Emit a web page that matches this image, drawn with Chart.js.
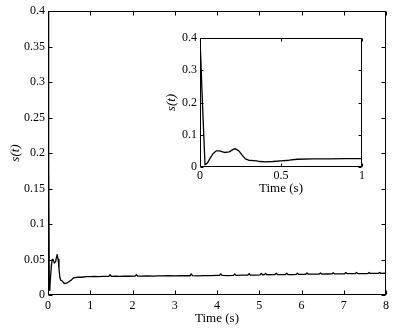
<!DOCTYPE html>
<html>
<head>
<meta charset="utf-8">
<script src="https://cdn.jsdelivr.net/npm/chart.js@4"></script>
<style>
  html, body { margin: 0; padding: 0; background: #fff; }
  #wrap { position: relative; width: 396px; height: 332px; }
  #main { position: absolute; left: 0; top: 0; }
  #inset { position: absolute; left: 160px; top: 20px; }
</style>
</head>
<body>
<div id="wrap">
  <canvas id="main" width="396" height="332"></canvas>
  <canvas id="inset" width="215" height="180"></canvas>
</div>
<script>
// ---- data ----
const timeEarly = [0, 0.015, 0.031, 0.045, 0.06, 0.08, 0.1, 0.12, 0.15, 0.18, 0.2, 0.216, 0.24, 0.26,
  0.28, 0.3, 0.33, 0.35, 0.37, 0.4, 0.45, 0.5, 0.55, 0.6, 0.7, 0.8, 0.9, 1.0];
const sEarly = [0.4, 0.2, 0.007, 0.012, 0.025, 0.041, 0.05, 0.05, 0.045, 0.047, 0.053, 0.057, 0.05, 0.037,
  0.025, 0.021, 0.02, 0.019, 0.017, 0.016, 0.017, 0.019, 0.021, 0.024, 0.025, 0.025, 0.026, 0.026];

const timeLate = [
  1.1, 1.2, 1.3, 1.44, 1.47, 1.5, 1.6, 1.7, 1.8, 1.9,
  2.06, 2.09, 2.12, 2.2, 2.35, 2.5, 2.6, 2.7, 2.85, 3.0,
  3.15, 3.36, 3.39, 3.42, 3.55, 3.7, 3.85, 4.0, 4.06, 4.09,
  4.12, 4.25, 4.39, 4.42, 4.45, 4.6, 4.73, 4.76, 4.79, 4.9,
  5.02, 5.05, 5.08, 5.12, 5.15, 5.18, 5.3, 5.37, 5.4, 5.43,
  5.55, 5.62, 5.65, 5.68, 5.8, 5.87, 5.9, 5.93, 6.05, 6.1,
  6.13, 6.16, 6.3, 6.42, 6.45, 6.48, 6.6, 6.72, 6.75, 6.78,
  6.9, 7.02, 7.05, 7.08, 7.2, 7.27, 7.3, 7.33, 7.45, 7.57,
  7.6, 7.63, 7.75, 7.82, 7.85, 7.88, 8.0];
const sLate = [
  0.0262, 0.0259, 0.0263, 0.0262, 0.0285, 0.0263, 0.0265, 0.0262, 0.0266, 0.0264,
  0.0266, 0.0288, 0.0267, 0.0265, 0.0268, 0.0266, 0.0270, 0.0268, 0.0271, 0.0269,
  0.0272, 0.0271, 0.0297, 0.0272, 0.0270, 0.0274, 0.0272, 0.0276, 0.0275, 0.0298,
  0.0276, 0.0274, 0.0277, 0.0297, 0.0277, 0.0279, 0.0279, 0.0302, 0.0280, 0.0279,
  0.0284, 0.0305, 0.0285, 0.0286, 0.0304, 0.0285, 0.0287, 0.0287, 0.0306, 0.0288,
  0.0287, 0.0289, 0.0306, 0.0289, 0.0288, 0.0290, 0.0307, 0.0291, 0.0291, 0.0292,
  0.0311, 0.0293, 0.0293, 0.0295, 0.0311, 0.0295, 0.0296, 0.0297, 0.0314, 0.0298,
  0.0298, 0.0299, 0.0316, 0.0300, 0.0300, 0.0301, 0.0317, 0.0302, 0.0302, 0.0303,
  0.0318, 0.0304, 0.0304, 0.0305, 0.0317, 0.0305, 0.0306];

const mainXTicks = [0, 1, 2, 3, 4, 5, 6, 7, 8];
const mainYTicks = [0, 0.05, 0.1, 0.15, 0.2, 0.25, 0.3, 0.35, 0.4];
const insetXTicks = [0, 0.5, 1];
const insetYTicks = [0, 0.1, 0.2, 0.3, 0.4];
const xTitle = 'Time (s)';
const yTitle = 's(t)';

// ---- build series ----
const allTime = timeEarly.concat(timeLate);
const allS = sEarly.concat(sLate);
const mainPts = allTime.map((t, i) => ({x: t, y: allS[i]}));
const insetPts = timeEarly.map((t, i) => ({x: t, y: sEarly[i]}));

const FONT = '"Liberation Serif", "Times New Roman", serif';

function frameTicks(len) {
  return {
    id: 'frameTicks',
    afterDraw(chart) {
      const {ctx, chartArea: a, scales} = chart;
      ctx.save();
      ctx.strokeStyle = '#000';
      ctx.lineWidth = 1;
      const L = Math.round(a.left) + 0.5, R = Math.round(a.right) - 0.5;
      const T = Math.round(a.top) + 0.5, B = Math.round(a.bottom) - 0.5;
      ctx.beginPath();
      scales.x.ticks.forEach(t => {
        const px = Math.round(scales.x.getPixelForValue(t.value)) + 0.5;
        ctx.moveTo(px, B); ctx.lineTo(px, B - len);
        ctx.moveTo(px, T); ctx.lineTo(px, T + len);
      });
      scales.y.ticks.forEach(t => {
        const py = Math.round(scales.y.getPixelForValue(t.value)) + 0.5;
        ctx.moveTo(L, py); ctx.lineTo(L + len, py);
        ctx.moveTo(R, py); ctx.lineTo(R - len, py);
      });
      ctx.stroke();
      ctx.strokeRect(L, T, R - L, B - T);
      ctx.restore();
    }
  };
}
const whiteBg = {
  id: 'whiteBg',
  beforeDraw(chart) {
    const c = chart.ctx;
    c.save(); c.fillStyle = '#fff'; c.fillRect(0, 0, chart.width, chart.height); c.restore();
  }
};

function makeChart(el, pts, opt) {
  return new Chart(el, {
    type: 'line',
    data: {datasets: [{
      data: pts, borderColor: '#000', borderWidth: 1.3, pointRadius: 0,
      tension: 0, fill: false, borderJoinStyle: 'round'
    }]},
    options: {
      responsive: false, animation: false, parsing: false,
      layout: {padding: opt.pad},
      plugins: {legend: {display: false}, tooltip: {enabled: false}},
      scales: {
        x: {
          type: 'linear', min: opt.xMin, max: opt.xMax,
          afterBuildTicks: s => { s.ticks = opt.xTicks.map(v => ({value: v})); },
          afterFit: s => { s.height = opt.xH; },
          grid: {display: false, drawTicks: false},
          border: {display: false},
          ticks: {color: '#000', font: {family: FONT, size: 12}, padding: opt.xPad,
                  maxRotation: 0, autoSkip: false, callback: v => String(v)},
          title: {display: true, text: xTitle, color: '#000',
                  font: {family: FONT, size: 13}, padding: {top: 0, bottom: opt.xTitlePad}}
        },
        y: {
          type: 'linear', min: opt.yMin, max: opt.yMax,
          afterBuildTicks: s => { s.ticks = opt.yTicks.map(v => ({value: v})); },
          afterFit: s => { s.width = opt.yW; },
          grid: {display: false, drawTicks: false},
          border: {display: false},
          ticks: {color: '#000', font: {family: FONT, size: 12}, padding: 3,
                  autoSkip: false, callback: v => String(v)},
          title: {display: true, text: yTitle, color: '#000',
                  font: {family: FONT, size: 13, style: 'italic'}, padding: {top: opt.yTitlePad, bottom: 0}}
        }
      }
    },
    plugins: opt.plugins
  });
}

makeChart(document.getElementById('main'), mainPts, {
  pad: {left: 0, right: 10, top: 11, bottom: 0},
  xMin: 0, xMax: 8, yMin: 0, yMax: 0.4,
  xTicks: mainXTicks, yTicks: mainYTicks,
  xH: 37, yW: 48, xPad: 4, xTitlePad: 6, yTitlePad: 8,
  plugins: [frameTicks(4)]
});

makeChart(document.getElementById('inset'), insetPts, {
  pad: {left: 0, right: 13, top: 18, bottom: 0},
  xMin: 0, xMax: 1, yMin: 0, yMax: 0.4,
  xTicks: insetXTicks, yTicks: insetYTicks,
  xH: 33, yW: 40, xPad: 2, xTitlePad: 4, yTitlePad: 4,
  plugins: [whiteBg, frameTicks(3)]
});
</script>
</body>
</html>
